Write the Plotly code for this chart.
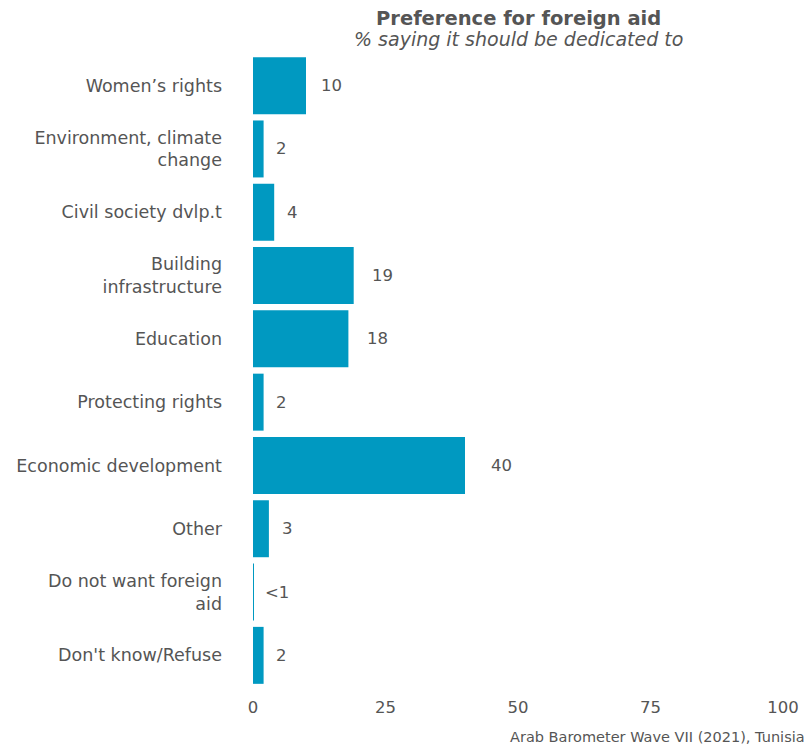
import plotly.graph_objects as go

categories = ["Women’s rights", "Environment, climate<br>change", "Civil society dvlp.t",
              "Building<br>infrastructure", "Education", "Protecting rights",
              "Economic development", "Other", "Do not want foreign<br>aid", "Don't know/Refuse"]
values = [10, 2, 4, 19, 18, 2, 40, 3, 0.05, 2]
labels = ["10", "2", "4", "19", "18", "2", "40", "3", "<1", "2"]
x_ticks = [0, 25, 50, 75, 100]

FONT = "DejaVu Sans"
GREY = "#555555"
BAR = "#0099C1"

# page body has an 8px margin
W, H = 804, 738
L, R, T, B = 245, 29, 46, 59

fig = go.Figure()
fig.add_trace(go.Bar(
    x=values, y=categories, orientation="h",
    marker=dict(color=BAR, line=dict(width=0)),
    hoverinfo="skip",
))
for v, c, t in zip(values, categories, labels):
    fig.add_annotation(x=v * 1.07 + 1.8, y=c, text=t, showarrow=False,
                       xanchor="left", yanchor="middle",
                       font=dict(family=FONT, size=16.5, color=GREY))

pw = W - L - R
fig.add_annotation(text="<b>Preference for foreign aid</b>", xref="paper", yref="paper",
                   x=0.5, y=1, yshift=(T - 10), xanchor="center", yanchor="middle",
                   showarrow=False, font=dict(family=FONT, size=19.5, color=GREY))
fig.add_annotation(text="<i>% saying it should be dedicated to</i>", xref="paper", yref="paper",
                   x=0.5, y=1, yshift=(T - 31), xanchor="center", yanchor="middle",
                   showarrow=False, font=dict(family=FONT, size=19, color=GREY))
fig.add_annotation(text="Arab Barometer Wave VII (2021), Tunisia", xref="paper", yref="paper",
                   x=(799 - L) / pw, y=0, yshift=-(B - 9), xanchor="right", yanchor="middle",
                   showarrow=False, font=dict(family=FONT, size=14.5, color=GREY))

fig.update_layout(
    width=W, height=H,
    margin=dict(l=L, r=R, t=T, b=B, pad=0, autoexpand=False),
    paper_bgcolor="white", plot_bgcolor="white",
    bargap=0.1,
    showlegend=False,
    font=dict(family=FONT, color=GREY),
    xaxis=dict(range=[0, 100], tickvals=x_ticks, showgrid=False, zeroline=False,
               showline=False, ticks="", tickfont=dict(family=FONT, size=16.5, color=GREY),
               ticklabelstandoff=8, fixedrange=True, automargin=False),
    yaxis=dict(autorange="reversed", showgrid=False, zeroline=False, showline=False,
               ticks="", tickfont=dict(family=FONT, size=17.5, color=GREY),
               ticklabelstandoff=30, fixedrange=True, automargin=False),
)

fig.write_html("out.html")
